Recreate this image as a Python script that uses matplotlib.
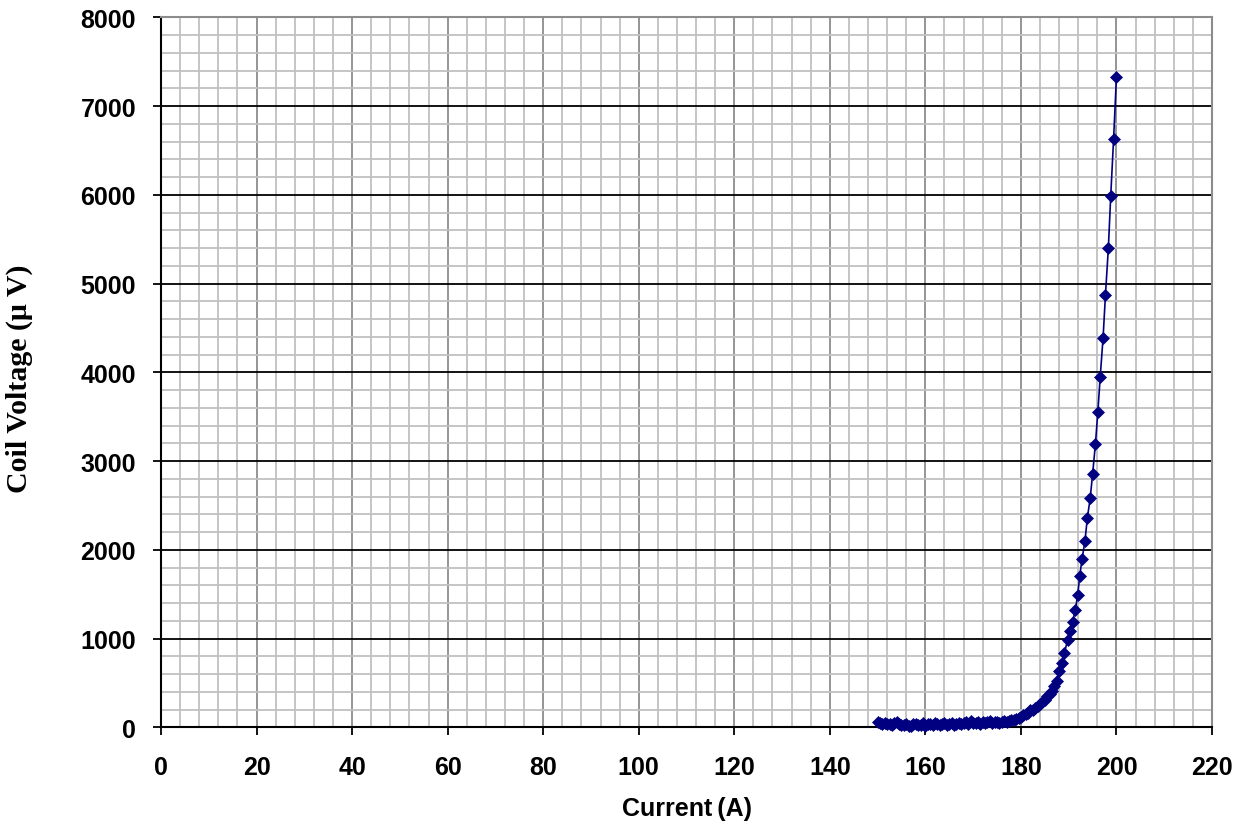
import matplotlib
matplotlib.use("Agg")
from matplotlib import pyplot as plt
from matplotlib.ticker import MultipleLocator
import numpy as np

# current (A) and coil voltage (uV)
current = [150.0, 150.5, 151.0, 151.5, 152.0, 152.5, 153.0, 153.5, 154.0, 154.5,
           155.0, 155.5, 156.0, 156.5, 157.0, 157.5, 158.0, 158.5, 159.0, 159.5,
           160.0, 160.5, 161.0, 161.5, 162.0, 162.5, 163.0, 163.5, 164.0, 164.5,
           165.0, 165.5, 166.0, 166.5, 167.0, 167.5, 168.0, 168.5, 169.0, 169.5,
           170.0, 170.5, 171.0, 171.5, 172.0, 172.5, 173.0, 173.5, 174.0, 174.5,
           175.0, 175.5, 176.0, 176.5, 177.0, 177.5,
           178.0, 178.5, 179.0, 179.5, 180.0, 180.5, 181.0, 181.5, 182.0, 182.5,
           183.0, 183.5, 184.0, 184.5, 185.0, 185.4, 186.0, 186.5, 187.0, 187.5,
           188.0, 188.5, 189.1, 189.8, 190.3, 190.8, 191.4, 191.9, 192.3, 192.8,
           193.4, 193.9, 194.5, 195.0, 195.6, 196.1, 196.6, 197.2, 197.7, 198.3,
           198.8, 199.4, 200.0]
voltage = [65, 45, 40, 50, 35, 40, 30, 45, 55, 40,
           30, 25, 35, 15, 20, 35, 40, 25, 30, 45,
           20, 35, 40, 30, 45, 35, 25, 40, 50, 30,
           35, 45, 30, 40, 50, 35, 45, 55, 40, 70,
           50, 45, 55, 40, 60, 45, 55, 70, 50, 60,
           55, 45, 60, 70, 65, 75,
           80, 85, 95, 105, 120, 135, 150, 165, 190, 200,
           215, 235, 260, 285, 310, 356, 380, 412, 460, 525,
           640, 721, 837, 987, 1089, 1183, 1325, 1494, 1700, 1897,
           2095, 2355, 2580, 2850, 3195, 3550, 3950, 4390, 4875, 5395,
           5985, 6630, 7330]

x_ticks = [0, 20, 40, 60, 80, 100, 120, 140, 160, 180, 200, 220]
y_ticks = [0, 1000, 2000, 3000, 4000, 5000, 6000, 7000, 8000]

fig = plt.figure(figsize=(12.41, 8.29), dpi=100)
ax = fig.add_axes([161 / 1241, 1 - 728.3 / 829, 1051 / 1241, 710 / 829])

ax.set_xlim(0, 220)
ax.set_ylim(0, 8000)
ax.set_xticks(x_ticks)
ax.set_yticks(y_ticks)
ax.xaxis.set_minor_locator(MultipleLocator(4))
ax.yaxis.set_minor_locator(MultipleLocator(200))

# grid: light minor, gray vertical majors, black horizontal majors
ax.grid(which="minor", color="#c0c0c0", linewidth=1.3)
ax.grid(which="major", axis="x", color="#8c8c8c", linewidth=1.3)
ax.grid(which="major", axis="y", color="black", linewidth=1.3)
ax.set_axisbelow(True)

ax.plot(current, voltage, color="#000080", linewidth=1.2, marker="D",
        markersize=6, markeredgewidth=0.5, zorder=3, clip_on=False)

for side in ["left", "bottom"]:
    ax.spines[side].set_color("black")
    ax.spines[side].set_linewidth(1.5)
for side in ["top", "right"]:
    ax.spines[side].set_color("#8c8c8c")
    ax.spines[side].set_linewidth(1.5)

ax.tick_params(which="minor", length=0)
ax.tick_params(which="major", direction="out", length=6, width=1.3, color="black")
ax.tick_params(axis="x", pad=14)
ax.tick_params(axis="y", pad=12)
for lab in ax.get_xticklabels() + ax.get_yticklabels():
    lab.set_fontfamily("Liberation Sans")
    lab.set_fontweight("bold")
    lab.set_fontsize(18)

ax.set_xlabel("Current\u2009(A)", fontfamily="Liberation Sans", fontweight="bold",
              fontsize=18, labelpad=12)
ax.set_ylabel("Coil Voltage (\u03bc V)", fontfamily="Liberation Serif",
              fontweight="bold", fontsize=21.5)
ax.yaxis.set_label_coords(-0.122, 0.493)

fig.savefig("out.png", dpi=100)
